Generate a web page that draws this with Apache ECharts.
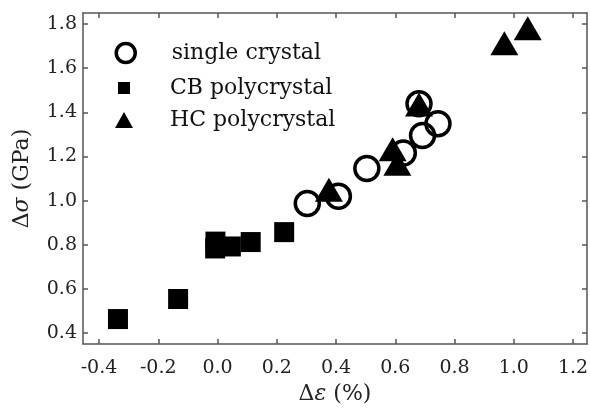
<!DOCTYPE html>
<html>
<head>
<meta charset="utf-8">
<script src="https://cdn.jsdelivr.net/npm/echarts@6/dist/echarts.min.js"></script>
<style>html,body{margin:0;padding:0;background:#fff;}#c{width:590px;height:410px;}</style>
</head>
<body>
<div id="c"></div>
<script>
// Series names
const seriesNames = ['single crystal', 'CB polycrystal', 'HC polycrystal'];
// single crystal (open circles)
const singleX = [0.303, 0.408, 0.504, 0.627, 0.680, 0.692, 0.744];
const singleY = [0.987, 1.020, 1.145, 1.216, 1.439, 1.295, 1.348];
// CB polycrystal (filled squares)
const cbX = [-0.336, -0.133, -0.007, -0.008, 0.045, 0.112, 0.225];
const cbY = [0.463, 0.554, 0.814, 0.783, 0.792, 0.812, 0.857];
// HC polycrystal (filled triangles)
const hcX = [0.376, 0.591, 0.607, 0.680, 0.968, 1.047];
const hcY = [1.049, 1.232, 1.167, 1.435, 1.713, 1.781];
// Tick values
const xTicks = [-0.4, -0.2, 0.0, 0.2, 0.4, 0.6, 0.8, 1.0, 1.2];
const yTicks = [0.4, 0.6, 0.8, 1.0, 1.2, 1.4, 1.6, 1.8];
const xName = '{n|Δ}{i|ε}{n| (%)}';
const yName = '{n|Δ}{i|σ}{n| (GPa)}';

const zip = (a, b) => a.map((v, i) => [v, b[i]]);
const FONT = 'DejaVu Serif';
const axisColor = '#555';
const fmt = v => Number(v).toFixed(1);
const nameStyle = {
  fontFamily: FONT, fontSize: 22, color: '#222',
  rich: {
    n: { fontFamily: FONT, fontSize: 22, color: '#222' },
    i: { fontFamily: FONT, fontSize: 22, color: '#222', fontStyle: 'italic' }
  }
};

function mkX(pos, showLabel) {
  return {
    type: 'value', position: pos, min: -0.454, max: 1.247,
    axisLine: { show: true, onZero: false, lineStyle: { color: axisColor, width: 1.5 } },
    axisTick: { show: true, inside: true, length: 5, customValues: xTicks, lineStyle: { color: axisColor, width: 1.5 } },
    axisLabel: { show: showLabel, customValues: xTicks, formatter: fmt, margin: 15,
                 fontFamily: FONT, fontSize: 19, color: '#222' },
    splitLine: { show: false },
    name: showLabel ? xName : '', nameLocation: 'middle', nameGap: 34,
    nameTextStyle: nameStyle
  };
}
function mkY(pos, showLabel) {
  return {
    type: 'value', position: pos, min: 0.35, max: 1.85,
    axisLine: { show: true, onZero: false, lineStyle: { color: axisColor, width: 1.5 } },
    axisTick: { show: true, inside: true, length: 5, customValues: yTicks, lineStyle: { color: axisColor, width: 1.5 } },
    axisLabel: { show: showLabel, customValues: yTicks, formatter: fmt, margin: 6,
                 fontFamily: FONT, fontSize: 19, color: '#222' },
    splitLine: { show: false },
    name: showLabel ? yName : '', nameLocation: 'middle', nameGap: 50,
    nameTextStyle: nameStyle
  };
}

// icon centred at x=124, text starting at x=170
function mkLegend(name, centerY, w, h, style, icon) {
  return {
    data: [{ name: name, icon: icon, itemStyle: style }],
    left: 124 - w / 2, top: centerY - 13, padding: 0, itemWidth: w, itemHeight: h,
    selectedMode: false,
    textStyle: { fontFamily: FONT, fontSize: 22, color: '#111', lineHeight: 26,
                 padding: [0, 0, 0, 170 - (124 + w / 2 + 5)] }
  };
}

const chart = echarts.init(document.getElementById('c'), null, { renderer: 'canvas' });
chart.setOption({
  animation: false,
  backgroundColor: '#fff',
  grid: { left: 83, top: 13, right: 3, bottom: 66, containLabel: false, outerBoundsMode: 'none' },
  xAxis: [mkX('bottom', true), mkX('top', false)],
  yAxis: [mkY('left', true), mkY('right', false)],
  legend: [
    mkLegend(seriesNames[0], 53, 19, 19, { color: '#fff', borderColor: '#000', borderWidth: 3.5 }, 'circle'),
    mkLegend(seriesNames[1], 88, 12, 12, { color: '#000', borderWidth: 0 }, 'rect'),
    mkLegend(seriesNames[2], 120, 18, 16, { color: '#000', borderWidth: 0 }, 'triangle')
  ],
  series: [
    { name: seriesNames[0], type: 'scatter', data: zip(singleX, singleY), symbol: 'circle', symbolSize: 24,
      itemStyle: { color: 'rgba(255,255,255,0)', borderColor: '#000', borderWidth: 3.5, opacity: 1 }, z: 2 },
    { name: seriesNames[1], type: 'scatter', data: zip(cbX, cbY), symbol: 'rect', symbolSize: 20,
      itemStyle: { color: '#000', opacity: 1 }, z: 3 },
    { name: seriesNames[2], type: 'scatter', data: zip(hcX, hcY), symbol: 'triangle', symbolSize: [28, 24],
      itemStyle: { color: '#000', opacity: 1 }, z: 4 }
  ]
});
</script>
</body>
</html>
